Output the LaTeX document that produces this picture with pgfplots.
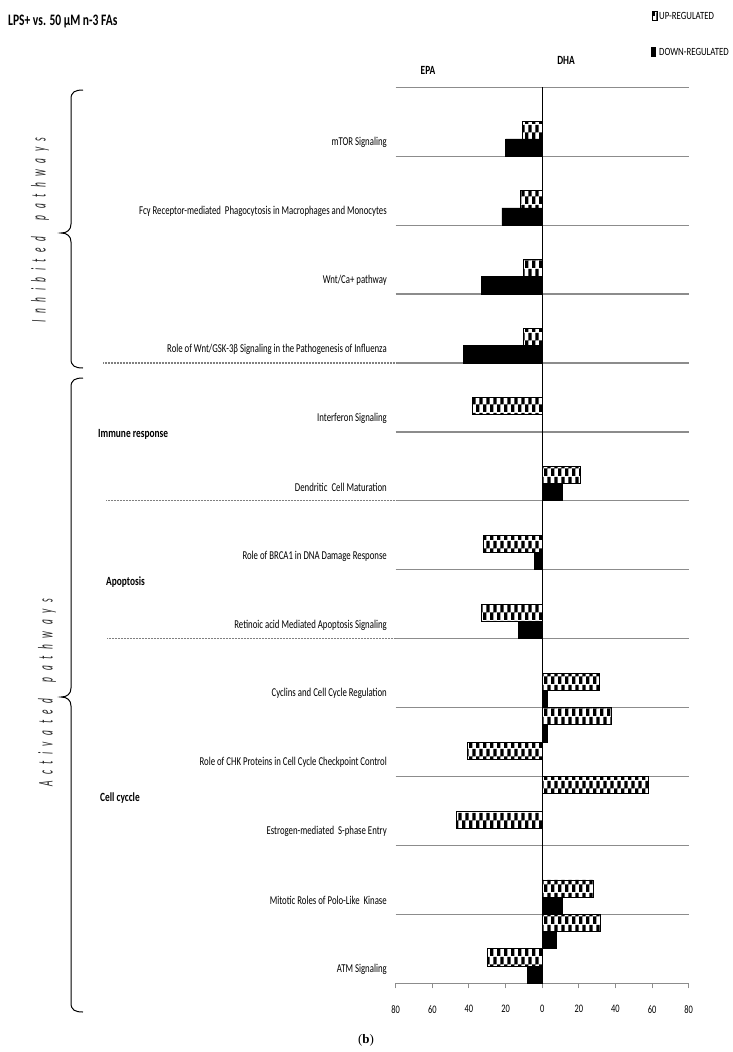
\documentclass[border=0pt]{standalone}
\usepackage{fontspec}
\setmainfont{Carlito}
\newfontfamily\serif{Liberation Serif}
\usepackage{graphicx}
\usepackage{pgfplots}
\pgfplotsset{compat=1.18}
\usetikzlibrary{patterns}
\pgfdeclarepatternformonly{bigcheck}{\pgfpointorigin}{\pgfqpoint{6.8pt}{16pt}}{\pgfqpoint{6.8pt}{16pt}}{%
  \pgfpathrectangle{\pgfpointorigin}{\pgfqpoint{3.4pt}{8pt}}%
  \pgfpathrectangle{\pgfqpoint{3.4pt}{8pt}}{\pgfqpoint{3.4pt}{8pt}}%
  \pgfusepath{fill}}
\newcommand{\sq}[2][0.73]{\scalebox{#1}[1]{#2}}
\newcommand{\g}{\hspace{14.5pt}}

\pgfplotstableread{
x y
-11 12.375
-12 11.375
-10 10.375
-10 9.375
-38 8.375
-32 6.375
-33 5.375
-41 3.375
-47 2.375
-30 0.375
}\epaup
\pgfplotstableread{
x y
-20 12.125
-22 11.125
-33 10.125
-43 9.125
-4 6.125
-13 5.125
-8 0.125
}\epadown
\pgfplotstableread{
x y
21 7.375
31 4.375
38 3.875
58 2.875
28 1.375
32 0.875
}\dhaup
\pgfplotstableread{
x y
11 7.125
3 4.125
3 3.625
11 1.125
8 0.625
}\dhadown

\begin{document}
\begin{tikzpicture}
\useasboundingbox (0pt,0pt) rectangle (733pt,-1052pt);
\begin{axis}[
  at={(395.7pt,-983.3pt)}, anchor=south west,
  scale only axis, width=293pt, height=896pt,
  xmin=-80, xmax=80, ymin=0, ymax=13,
  clip=false,
  axis line style={draw=none},
  xtick={-80,-60,...,80},
  xticklabels={\sq{80},\sq{60},\sq{40},\sq{20},\sq{0},\sq{20},\sq{40},\sq{60},\sq{80}},
  xtick pos=bottom, xtick align=outside,
  x tick style={black!45, line width=1pt},
  major tick length=5pt,
  xticklabel style={font=\fontsize{11.5}{11.5}\selectfont, inner sep=0pt, yshift=-17pt},
  ytick={0.2,1.2,...,12.2},
  yticklabels={
    \sq{ATM Signaling},
    \sq{Mitotic Roles of Polo-Like\ \ Kinase},
    \sq{Estrogen-mediated\ \ S-phase Entry},
    \sq{Role of CHK Proteins in Cell Cycle Checkpoint Control},
    \sq{Cyclins and Cell Cycle Regulation},
    \sq{Retinoic acid Mediated Apoptosis Signaling},
    \sq{Role of BRCA1 in DNA Damage Response},
    \sq{Dendritic\ \ Cell Maturation},
    \sq{Interferon Signaling},
    \sq{Role of Wnt/GSK-3β Signaling in the Pathogenesis of Influenza},
    \sq{Wnt/Ca+ pathway},
    \sq{Fcγ Receptor-mediated\ \ Phagocytosis in Macrophages and Monocytes},
    \sq{mTOR Signaling}},
  ytick pos=left,
  y tick style={draw=none},
  yticklabel style={font=\fontsize{12}{12}\selectfont, anchor=east, inner sep=0pt, xshift=-8.7pt},
  minor ytick={0,1,...,13},
  yminorgrids,
  minor y tick style={draw=none},
  minor grid style={black!45, line width=1.2pt},
]
\draw[black, line width=0.7pt] (axis cs:0,0) -- (axis cs:0,13);
\addplot[xbar, bar width=0.25, bar shift=0pt, draw=black, line width=0.8pt, pattern=bigcheck] table {\epaup};
\addplot[xbar, bar width=0.25, bar shift=0pt, draw=black, line width=0.8pt, fill=black] table {\epadown};
\addplot[xbar, bar width=0.25, bar shift=0pt, draw=black, line width=0.8pt, pattern=bigcheck] table {\dhaup};
\addplot[xbar, bar width=0.25, bar shift=0pt, draw=black, line width=0.8pt, fill=black] table {\dhadown};
\end{axis}

\begin{scope}[x=1pt,y=-1pt]
% dotted separators
\draw[black!50, line width=1.3pt, dash pattern=on 1pt off 0.5pt] (103,363.0) -- (395.7,363.0);
\draw[black!50, line width=1.3pt, dash pattern=on 1pt off 0.5pt] (106,500.8) -- (395.7,500.8);
\draw[black!50, line width=1.3pt, dash pattern=on 1pt off 0.5pt] (107,638.7) -- (395.7,638.7);

% braces
\draw[line width=1pt] (83,90) .. controls (75,90) and (71,92) .. (71,99) -- (71,224) .. controls (71,230) and (67,233) .. (61,233) .. controls (67,233) and (71,236) .. (71,242) -- (71,359) .. controls (71,366) and (75,368) .. (83,368);
\draw[line width=1pt] (83,378) .. controls (75,378) and (71,380) .. (71,387) -- (71,688) .. controls (71,694) and (67,697) .. (61,697) .. controls (67,697) and (71,700) .. (71,706) -- (71,1003) .. controls (71,1010) and (75,1012) .. (83,1012);

% rotated group titles
\node[rotate=90, text=black!85, inner sep=0] at (40,230) {\fontsize{21}{21}\selectfont\itshape\scalebox{0.45}[1]{I\g n\g h\g i\g b\g i\g t\g e\g d\hspace{36pt}p\g a\g t\g h\g w\g a\g y\g s}};
\node[rotate=90, text=black!85, inner sep=0] at (47,693) {\fontsize{21}{21}\selectfont\itshape\scalebox{0.45}[1]{A\g c\g t\g i\g v\g a\g t\g e\g d\hspace{36pt}p\g a\g t\g h\g w\g a\g y\g s}};

% group labels
\node[anchor=west, inner sep=0] at (98,434) {\fontsize{12.5}{12.5}\selectfont\bfseries\sq[0.75]{Immune response}};
\node[anchor=west, inner sep=0] at (106,582) {\fontsize{12.5}{12.5}\selectfont\bfseries\sq[0.75]{Apoptosis}};
\node[anchor=west, inner sep=0] at (100,798) {\fontsize{12.5}{12.5}\selectfont\bfseries\sq[0.75]{Cell cyccle}};

% title, EPA / DHA
\node[anchor=west, inner sep=0] at (8,22) {\fontsize{16}{16}\selectfont\bfseries\sq[0.72]{LPS+ vs. 50 μM n-3 FAs}};
\node[inner sep=0] at (428,70) {\fontsize{12.5}{12.5}\selectfont\bfseries\sq[0.75]{EPA}};
\node[inner sep=0] at (566,60) {\fontsize{12.5}{12.5}\selectfont\bfseries\sq[0.75]{DHA}};

% legend
\filldraw[pattern=bigcheck, draw=black, line width=1pt] (652,11) rectangle (657,20);
\fill (652,11) rectangle (654.5,15.5);
\node[anchor=west, inner sep=0] at (659,16) {\fontsize{11}{11}\selectfont\sq[0.8]{UP-REGULATED}};
\fill (651,47) rectangle (656,57);
\node[anchor=west, inner sep=0] at (659,52) {\fontsize{11}{11}\selectfont\sq[0.8]{DOWN-REGULATED}};

% panel label
\node[inner sep=0] at (366,1040) {\serif\fontsize{13}{13}\selectfont(\textbf{b})};
\end{scope}
\end{tikzpicture}
\end{document}
